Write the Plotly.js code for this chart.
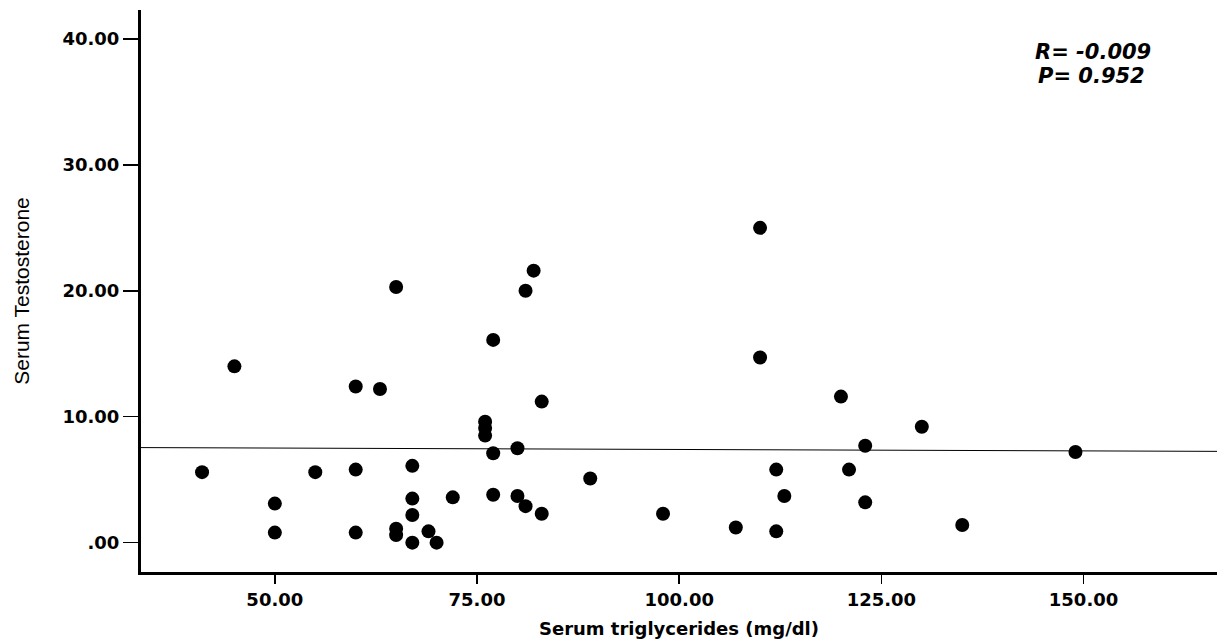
<!DOCTYPE html>
<html>
<head>
<meta charset="utf-8">
<script src="https://cdn.plot.ly/plotly-3.0.1.min.js"></script>
<style>
  html, body { margin: 0; padding: 0; background: #fff; }
  #chart { width: 1219px; height: 642px; }
</style>
</head>
<body>
<div id="chart"></div>
<script>
// Serum triglycerides (mg/dl)
const triglycerides = [41, 45, 50, 50, 55, 60, 60, 60, 63, 65, 65, 65, 67, 67, 67, 67, 69, 70, 72,
  76, 76, 76, 77, 77, 77, 80, 80, 81, 81, 82, 83, 83, 89, 98, 107, 110, 110, 112, 112, 113,
  120, 121, 123, 123, 130, 135, 149];
// Serum Testosterone
const testosterone = [5.6, 14.0, 3.1, 0.8, 5.6, 12.4, 5.8, 0.8, 12.2, 20.3, 1.1, 0.6, 6.1, 3.5, 2.2, 0.0, 0.9, 0.0, 3.6,
  9.6, 9.1, 8.5, 16.1, 7.1, 3.8, 7.5, 3.7, 20.0, 2.9, 21.6, 11.2, 2.3, 5.1, 2.3, 1.2, 25.0, 14.7, 5.8, 0.9, 3.7,
  11.6, 5.8, 7.7, 3.2, 9.2, 1.4, 7.2];
// Fit line (ends at the axis limits)
const fitX = [33.45, 166.5];
const fitY = [7.55, 7.25];

const xTickVals = [50, 75, 100, 125, 150];
const xTickText = ['50.00', '75.00', '100.00', '125.00', '150.00'];
const yTickVals = [0, 10, 20, 30, 40];
const yTickText = ['.00', '10.00', '20.00', '30.00', '40.00'];

const statLines = ['R= -0.009', 'P= 0.952'];

const boldFont = { family: 'DejaVu Sans, Arial, sans-serif', size: 18, color: '#000', weight: 'bold' };
const statFont = { family: 'DejaVu Sans, Arial, sans-serif', size: 21, color: '#000', weight: 'bold', style: 'italic' };

const traces = [
  {
    x: fitX, y: fitY, type: 'scatter', mode: 'lines',
    line: { color: '#000', width: 1 }, hoverinfo: 'skip', showlegend: false
  },
  {
    x: triglycerides, y: testosterone, type: 'scatter', mode: 'markers',
    marker: { color: '#000', size: 14, line: { width: 0 } }, showlegend: false
  }
];

const layout = {
  width: 1219, height: 642,
  margin: { l: 141, r: 2, t: 10, b: 70 },
  paper_bgcolor: '#fff', plot_bgcolor: '#fff',
  showlegend: false,
  xaxis: {
    range: [33.45, 166.5],
    tickmode: 'array', tickvals: xTickVals, ticktext: xTickText,
    ticks: 'outside', ticklen: 9, tickwidth: 1.5, tickcolor: '#000',
    tickfont: boldFont,
    showline: true, linecolor: '#000', linewidth: 3,
    showgrid: false, zeroline: false,
    title: { text: 'Serum triglycerides (mg/dl)', font: boldFont, standoff: 14 }
  },
  yaxis: {
    range: [-2.33, 42.3],
    tickmode: 'array', tickvals: yTickVals, ticktext: yTickText,
    ticks: 'outside', ticklen: 15, tickwidth: 1.5, tickcolor: '#000',
    tickfont: boldFont,
    showline: true, linecolor: '#000', linewidth: 3,
    showgrid: false, zeroline: false,
    title: { text: 'Serum Testosterone', font: { family: 'Liberation Sans, Arial, sans-serif', size: 21, color: '#000' }, standoff: 28 }
  },
  annotations: [
    {
      xref: 'paper', yref: 'paper', x: 0.885, y: 0.925, xanchor: 'center', yanchor: 'middle',
      text: statLines[0], showarrow: false, font: statFont
    },
    {
      xref: 'paper', yref: 'paper', x: 0.883, y: 0.882, xanchor: 'center', yanchor: 'middle',
      text: statLines[1], showarrow: false, font: statFont
    }
  ]
};

Plotly.newPlot('chart', traces, layout, { displayModeBar: false, staticPlot: true });
</script>
</body>
</html>
